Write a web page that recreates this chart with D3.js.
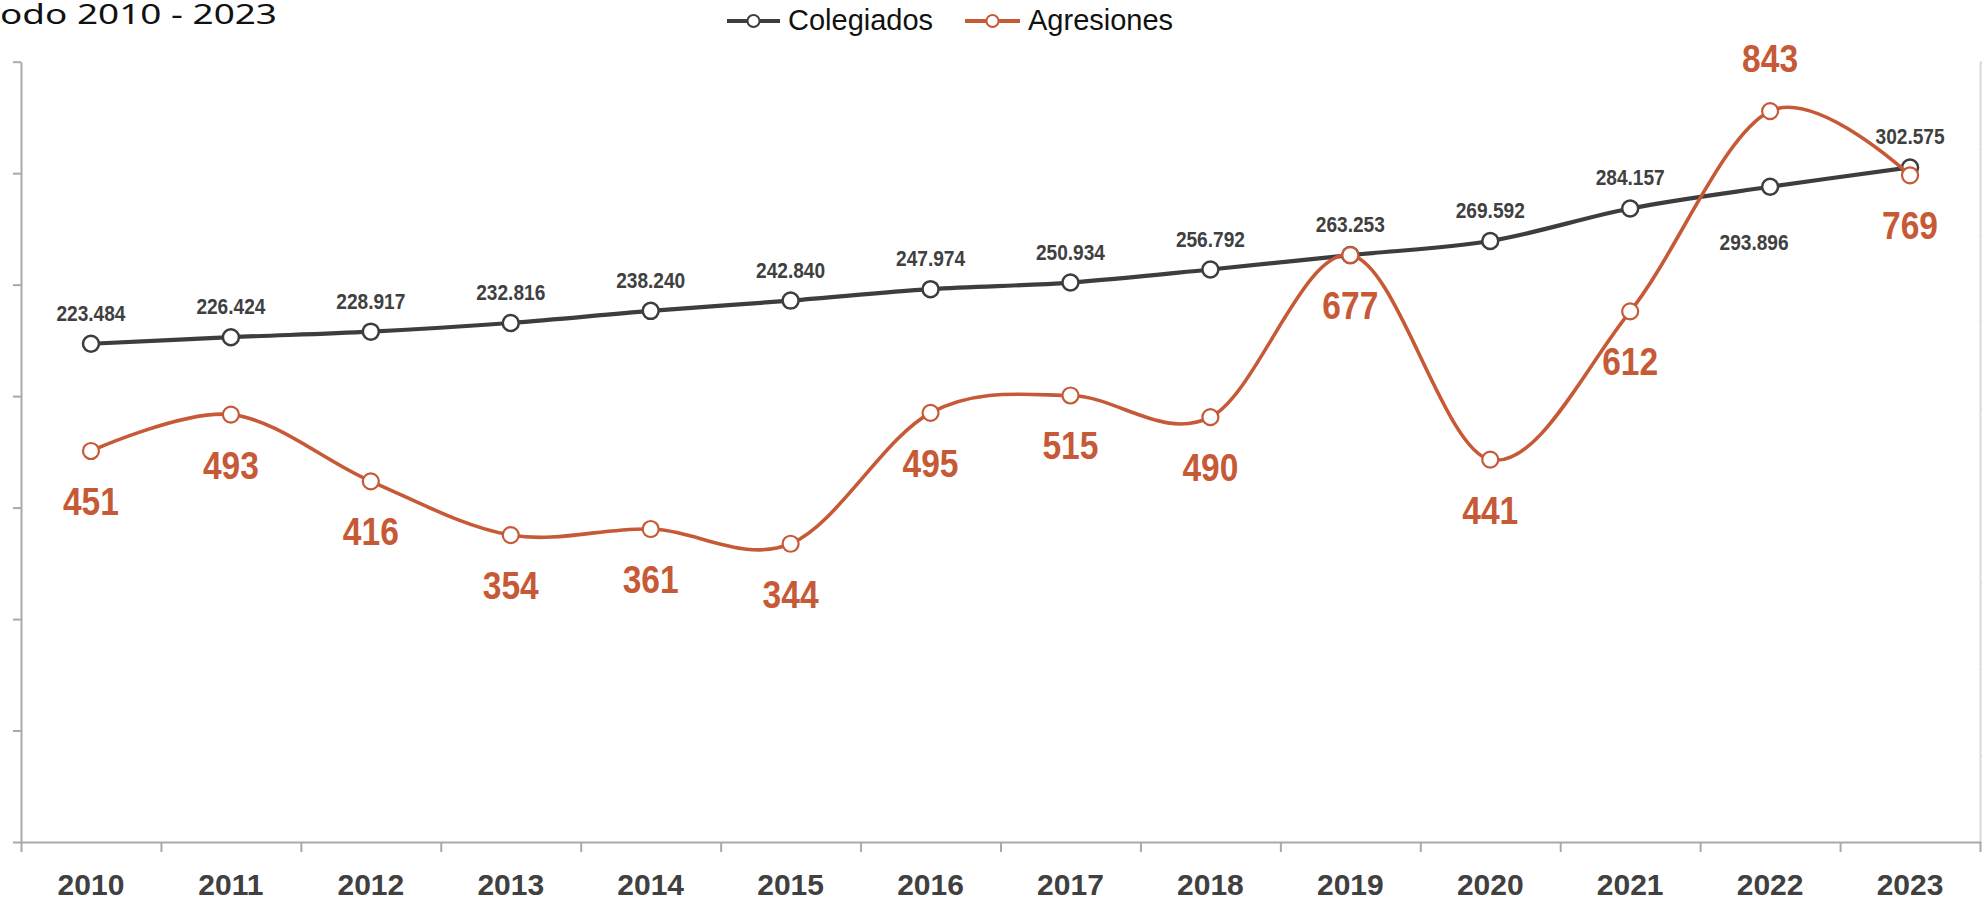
<!DOCTYPE html>
<html>
<head>
<meta charset="utf-8">
<script src="https://cdn.jsdelivr.net/npm/d3@7"></script>
<style>
  html, body { margin: 0; padding: 0; background: #ffffff; overflow: hidden; }
  svg { display: block; }
</style>
</head>
<body>
<svg id="chart" width="1982" height="901"></svg>
<script>
// ---- Data ----
const years = ["2010","2011","2012","2013","2014","2015","2016","2017","2018","2019","2020","2021","2022","2023"];
const colegiados = [223484, 226424, 228917, 232816, 238240, 242840, 247974, 250934, 256792, 263253, 269592, 284157, 293896, 302575];
const agresiones = [451, 493, 416, 354, 361, 344, 495, 515, 490, 677, 441, 612, 843, 769];
const colegiadosTicks = [0, 50000, 100000, 150000, 200000, 250000, 300000, 350000];
const agresionesTicks = [0, 100, 200, 300, 400, 500, 600, 700, 800, 900];
const seriesNames = ["Colegiados", "Agresiones"];
const titleText = "odo 2010 - 2023";

// ---- Layout / style ----
const GRAY = "#3d3d3d", ORANGE = "#c65a37", AXIS = "#a9a9a9", AXIS2 = "#d9d9d9";
const svg = d3.select("#chart");
const plotLeft = 21, plotRight = 1980, plotTop = 61.7, plotBottom = 842;

const x = d3.scaleBand().domain(years).range([plotLeft, plotRight]);
const xb = d3.scaleLinear().domain([0, years.length]).range([plotLeft, plotRight]);
const yL = d3.scaleLinear().domain([0, 350000]).range([plotBottom, plotTop]);
const yR = d3.scaleLinear().domain([0, 900]).range([plotBottom, plotTop]);
const cx = d => x(d) + x.bandwidth() / 2;

// Title (cut off at left as in reference)
svg.append("text").attr("x", 0).attr("y", 24)
  .attr("font-family", "'Noto Sans', Lato, sans-serif").attr("font-weight", 400).attr("font-size", 28)
  .attr("fill", "#111").attr("textLength", 277).attr("lengthAdjust", "spacingAndGlyphs")
  .text(titleText);

// Right (secondary) axis
const gR = svg.append("g").attr("transform", `translate(${plotRight},0)`)
  .call(d3.axisRight(yR).tickValues(agresionesTicks).tickSize(8).tickSizeOuter(0).tickFormat(""));
gR.selectAll("path,line").attr("stroke", AXIS2).attr("stroke-width", 2);

// Left axis
const gL = svg.append("g").attr("transform", `translate(${plotLeft},0)`)
  .call(d3.axisLeft(yL).tickValues(colegiadosTicks).tickSize(8).tickSizeOuter(0).tickFormat(""));
gL.selectAll("path,line").attr("stroke", AXIS).attr("stroke-width", 2);

// Bottom axis: boundary ticks
const gB = svg.append("g").attr("transform", `translate(0,${plotBottom})`)
  .call(d3.axisBottom(xb).tickValues(d3.range(years.length + 1)).tickSize(10).tickSizeOuter(0).tickFormat(""));
gB.selectAll("path,line").attr("stroke", AXIS).attr("stroke-width", 2);

// Bottom axis labels
const gBL = svg.append("g").attr("transform", `translate(0,${plotBottom})`)
  .call(d3.axisBottom(x).tickSize(0).tickPadding(32));
gBL.select(".domain").remove();
gBL.selectAll("text").attr("font-family", "'Liberation Sans', Arial, sans-serif")
  .attr("font-weight", "bold").attr("font-size", 30).attr("fill", "#404040");

// Lines
const curve = d3.curveCardinal.tension(0);
const lineC = d3.line().x((d, i) => cx(years[i])).y(d => yL(d)).curve(curve);
const lineA = d3.line().x((d, i) => cx(years[i])).y(d => yR(d)).curve(curve);

svg.append("path").attr("d", lineC(colegiados)).attr("fill", "none")
  .attr("stroke", GRAY).attr("stroke-width", 4.2);

svg.selectAll("circle.c").data(colegiados).join("circle").attr("class", "c")
  .attr("cx", (d, i) => cx(years[i])).attr("cy", d => yL(d)).attr("r", 8)
  .attr("fill", "#fff").attr("stroke", GRAY).attr("stroke-width", 2.5);

svg.append("path").attr("d", lineA(agresiones)).attr("fill", "none")
  .attr("stroke", ORANGE).attr("stroke-width", 3.6);

svg.selectAll("circle.a").data(agresiones).join("circle").attr("class", "a")
  .attr("cx", (d, i) => cx(years[i])).attr("cy", d => yR(d)).attr("r", 8)
  .attr("fill", "#fff").attr("stroke", ORANGE).attr("stroke-width", 2.2);

// Labels (condensed look via textLength)
const fmtC = d => d3.format(",")(d).replace(/,/g, ".");
const labelFont = "'Liberation Sans', Arial, sans-serif";

svg.selectAll("text.lc").data(colegiados).join("text").attr("class", "lc")
  .attr("x", (d, i) => cx(years[i]) + (years[i] === "2022" ? -16 : 0))
  .attr("y", (d, i) => yL(d) + (years[i] === "2022" ? 63 : -23))
  .attr("text-anchor", "middle").attr("font-family", labelFont).attr("font-weight", "bold")
  .attr("font-size", 22.5).attr("fill", "#404040")
  .attr("textLength", 69).attr("lengthAdjust", "spacingAndGlyphs")
  .text(fmtC);

svg.selectAll("text.la").data(agresiones).join("text").attr("class", "la")
  .attr("x", (d, i) => cx(years[i]))
  .attr("y", (d, i) => yR(d) + (years[i] === "2022" ? -39 : 64))
  .attr("text-anchor", "middle").attr("font-family", labelFont).attr("font-weight", "bold")
  .attr("font-size", 39).attr("fill", ORANGE)
  .attr("textLength", 56).attr("lengthAdjust", "spacingAndGlyphs")
  .text(d => d);

// Legend
const legend = [
  { name: seriesNames[0], color: GRAY, x0: 727, x1: 780, tx: 788 },
  { name: seriesNames[1], color: ORANGE, x0: 965, x1: 1020, tx: 1028 }
];
const lg = svg.append("g");
legend.forEach(l => {
  lg.append("line").attr("x1", l.x0).attr("x2", l.x1).attr("y1", 21).attr("y2", 21)
    .attr("stroke", l.color).attr("stroke-width", 4);
  lg.append("circle").attr("cx", (l.x0 + l.x1) / 2).attr("cy", 21).attr("r", 6)
    .attr("fill", "#fff").attr("stroke", l.color).attr("stroke-width", 2);
  lg.append("text").attr("x", l.tx).attr("y", 30)
    .attr("font-family", "'Liberation Sans', Arial, sans-serif").attr("font-size", 29)
    .attr("fill", "#111").text(l.name);
});
</script>
</body>
</html>
